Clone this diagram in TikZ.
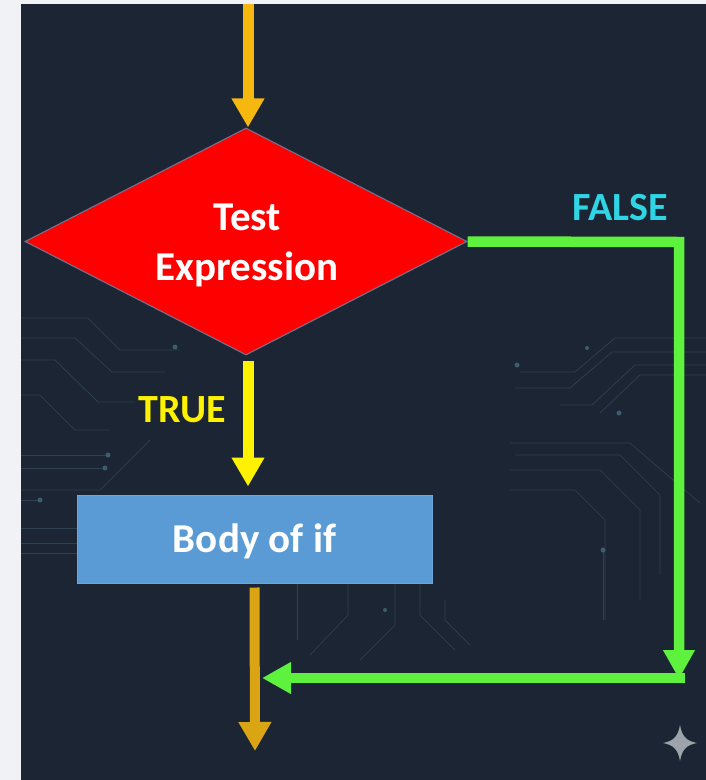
\documentclass[tikz,border=0pt]{standalone}
\usepackage{fontspec}
\setmainfont{Carlito}
\usetikzlibrary{shapes.geometric,arrows.meta}
\definecolor{pagegray}{HTML}{F0F2F5}
\definecolor{bgdark}{HTML}{1B2533}
\definecolor{tracecol}{HTML}{2E4152}
\definecolor{dotcol}{HTML}{3F5B6E}
\definecolor{orangeA}{HTML}{F6B70F}
\definecolor{yellowA}{HTML}{FFF200}
\definecolor{greenA}{HTML}{5EF23E}
\definecolor{goldA}{HTML}{D9A514}
\definecolor{cyanA}{HTML}{2FD5E5}
\definecolor{boxblue}{HTML}{5B9BD5}
\definecolor{boxedge}{HTML}{6FA6DA}
\definecolor{redA}{HTML}{FF0000}
\definecolor{diaedge}{HTML}{7B6A85}
\definecolor{starcol}{HTML}{9EA3AB}
\tikzset{
  bigtext/.style={font=\fontsize{40}{48}\selectfont\bfseries},
  decision/.style={shape=diamond, fill=redA, draw=diaedge, line width=1.2pt,
    minimum width=442pt, minimum height=227pt, inner sep=0pt, aspect=1.95},
  dialabel/.style={text=white, align=center, inner sep=0pt,
    font=\fontsize{41}{50}\selectfont\bfseries},
  process/.style={rectangle, fill=boxblue, draw=boxedge, line width=1pt,
    minimum width=355pt, minimum height=88pt, inner sep=0pt},
  boxlabel/.style={text=white, inner sep=0pt, font=\fontsize{41}{48}\selectfont\bfseries},
  flowarrow/.style={line width=11pt, -{Triangle[width=31pt,length=29pt]}},
  greenarrow/.style={line width=10.5pt, draw=greenA, line join=miter,
    -{Triangle[width=30pt,length=29pt]}},
  trace/.style={draw=tracecol, line width=0.7pt},
  tracedot/.style={fill=dotcol},
}
\begin{document}
\begin{tikzpicture}[x=1pt,y=-1pt]
\useasboundingbox (0,0) rectangle (706,780);
\fill[pagegray] (0,0) rectangle (706,780);
\fill[bgdark] (21,4) rectangle (706,780);

% faint circuit traces
\begin{scope}[trace]
  \draw (21,318) -- (88,318) -- (120,350) -- (180,350);
  \draw (21,338) -- (75,338) -- (112,372) -- (165,372);
  \draw (21,360) -- (55,360) -- (98,402) -- (135,402);
  \draw (21,395) -- (40,395) -- (75,430) -- (110,430);
  \draw (21,455) -- (108,455);
  \draw (21,468) -- (105,468);
  \draw (21,500) -- (40,500);
  \draw (150,440) -- (100,490) -- (21,490);
  \draw (21,528) -- (77,528);
  \draw (21,543) -- (77,543);
  \draw (21,553) -- (77,553);
  \draw (706,338) -- (615,338) -- (575,372) -- (520,372);
  \draw (706,352) -- (612,352) -- (570,388) -- (515,388);
  \draw (706,365) -- (635,365) -- (592,405) -- (560,405);
  \draw (706,375) -- (640,375) -- (600,413);
  \draw (510,443) -- (630,443) -- (700,503);
  \draw (515,455) -- (620,455) -- (660,495) -- (660,575);
  \draw (510,470) -- (600,470) -- (640,510) -- (640,600);
  \draw (510,490) -- (575,490) -- (605,520) -- (605,620);
  \draw (603,552) -- (603,620);
  \draw (297,583) -- (297,640);
  \draw (348,583) -- (348,615) -- (310,655);
  \draw (395,583) -- (395,625) -- (360,660);
  \draw (420,583) -- (420,615) -- (455,650);
  \draw (445,600) -- (445,620) -- (470,645);
\end{scope}
\begin{scope}[tracedot]
  \fill (108,455) circle (2.5pt);
  \fill (105,468) circle (2.5pt);
  \fill (40,500) circle (2.5pt);
  \fill (175,347) circle (2.5pt);
  \fill (517,365) circle (2.5pt);
  \fill (619,413) circle (2.5pt);
  \fill (587,348) circle (2pt);
  \fill (603,550) circle (2.5pt);
  \fill (385,610) circle (2pt);
\end{scope}

% nodes
\node[decision] (dia) at (246,241.5) {};
\node[dialabel] (dialab) at (247,245) {Test\\Expression};
\node[process] (body) at (254.5,539) {};
\node[boxlabel] (bodylab) at (254.5,541) {Body of if};
\node[bigtext, text=yellowA, inner sep=0pt] (truelab) at (182.5,410) {TRUE};
\node[bigtext, text=cyanA, inner sep=0pt] (falselab) at (620,207.5) {FALSE};

% free ends and corners
\coordinate (start) at (248,4);
\coordinate (gc1) at (679,242);
\coordinate (gc2) at (679,679);
\coordinate (gc3) at (684.5,678);
\coordinate (join) at (262,678);
\coordinate (exit) at (255,751);

% connectors
\draw[flowarrow, draw=orangeA] (start) -- (start |- dia.north);
\draw[flowarrow, draw=yellowA, shorten <=5pt, shorten >=8pt] (start |- dia.south) -- (start |- body.north);
\draw[flowarrow, line width=10pt, draw=goldA, shorten <=4pt] (body.south) -- (exit);
\draw[greenarrow] (dia.east) -- (gc1) -- (gc2);
\draw[greenarrow] (gc3) -- (join);

% sparkle mark
\fill[starcol] (680,725) .. controls (682,736) and (686,741) .. (697,743)
  .. controls (686,745) and (682,750) .. (680,761)
  .. controls (678,750) and (674,745) .. (663,743)
  .. controls (674,741) and (678,736) .. (680,725) -- cycle;
\end{tikzpicture}
\end{document}
